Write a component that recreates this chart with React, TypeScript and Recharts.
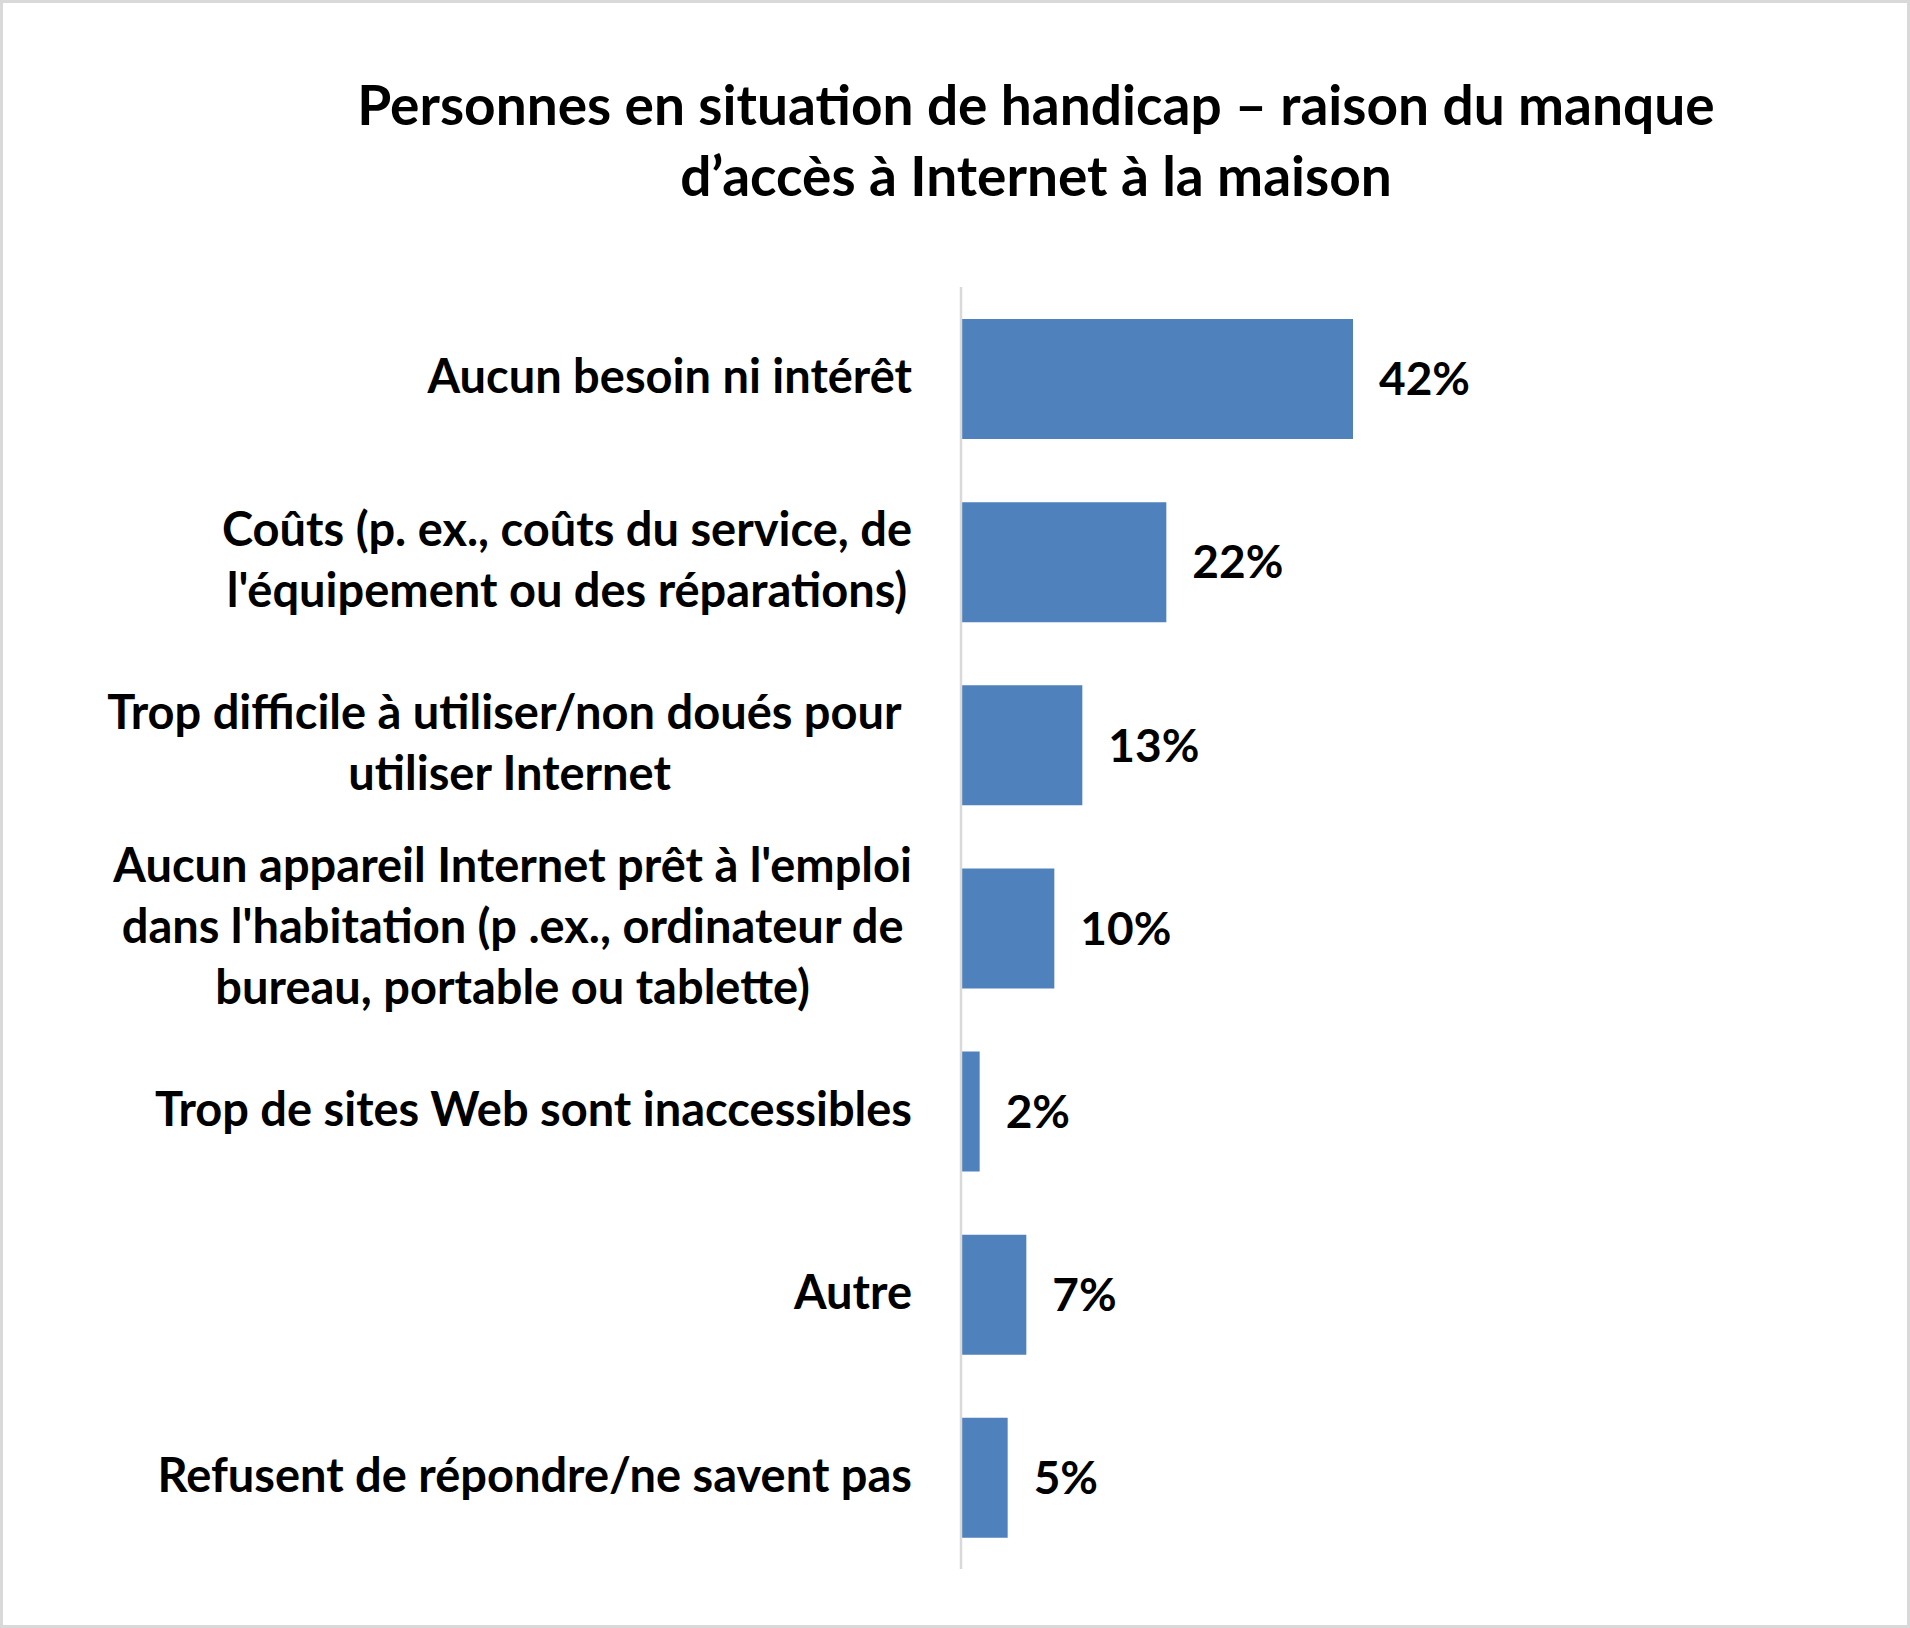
import { BarChart, Bar, XAxis, YAxis, LabelList } from 'recharts';

const reasons = [
  'Aucun besoin ni intérêt',
  "Coûts (p. ex., coûts du service, de\nl'équipement ou des réparations)",
  'Trop difficile à utiliser/non doués pour \nutiliser Internet',
  "Aucun appareil Internet prêt à l'emploi\ndans l'habitation (p .ex., ordinateur de\nbureau, portable ou tablette)",
  'Trop de sites Web sont inaccessibles',
  'Autre',
  'Refusent de répondre/ne savent pas',
];
const shares = [42, 22, 13, 10, 2, 7, 5];

const titleLines = [
  'Personnes en situation de handicap – raison du manque',
  'd’accès à Internet à la maison',
];

const data = reasons.map((name, i) => ({ name, value: shares[i] }));

const FONT = 'Lato, "Noto Sans", sans-serif';

function ReasonTick(props: any) {
  const { x, y, payload } = props;
  const right = x - 49;
  const lines: string[] = String(payload.value).split('\n');
  return (
    <foreignObject x={0} y={y - 123} width={right} height={240}>
      <div style={{ height: '100%', display: 'flex', justifyContent: 'flex-end', alignItems: 'center' }}>
        <div style={{ textAlign: 'center', fontFamily: FONT, fontWeight: 700, fontSize: 47, lineHeight: '61px', color: '#000' }}>
          {lines.map((l, i) => (
            <div key={i} style={{ whiteSpace: 'pre' }}>{l}</div>
          ))}
        </div>
      </div>
    </foreignObject>
  );
}

export default function App() {
  return (
    <div style={{ position: 'relative', width: 1910, height: 1628, background: '#fff' }}>
      <style>{'body{margin:0}'}</style>
      {/* titre */}
      <div style={{ position: 'absolute', left: 236, top: 69, width: 1600, textAlign: 'center', fontFamily: FONT, fontWeight: 700, fontSize: 55, lineHeight: '71px', color: '#000' }}>
        {titleLines.map((t, i) => <div key={i}>{t}</div>)}
      </div>

      <div style={{ position: 'absolute', left: 0, top: 0 }}>
        <BarChart
          width={1910}
          height={1628}
          data={data}
          layout="vertical"
          margin={{ top: 287, right: 529, bottom: 59, left: 0 }}
        >
          <XAxis type="number" domain={[0, 45]} hide />
          <YAxis
            type="category"
            dataKey="name"
            width={961}
            axisLine={{ stroke: '#d9d9d9', strokeWidth: 2.5 }}
            tickLine={false}
            tickSize={0}
            tickMargin={0}
            tick={<ReasonTick />}
            interval={0}
          />
          <Bar dataKey="value" fill="#4f81bd" barSize={120} isAnimationActive={false}>
            <LabelList
              dataKey="value"
              position="right"
              offset={26}
              formatter={(v: any) => `${v}%`}
              style={{ fill: '#000', fontFamily: FONT, fontWeight: 700, fontSize: 46 }}
            />
          </Bar>
        </BarChart>
      </div>

      {/* cadre */}
      <div style={{ position: 'absolute', inset: 0, border: '3px solid #d9d9d9', boxSizing: 'border-box', pointerEvents: 'none' }} />
    </div>
  );
}
